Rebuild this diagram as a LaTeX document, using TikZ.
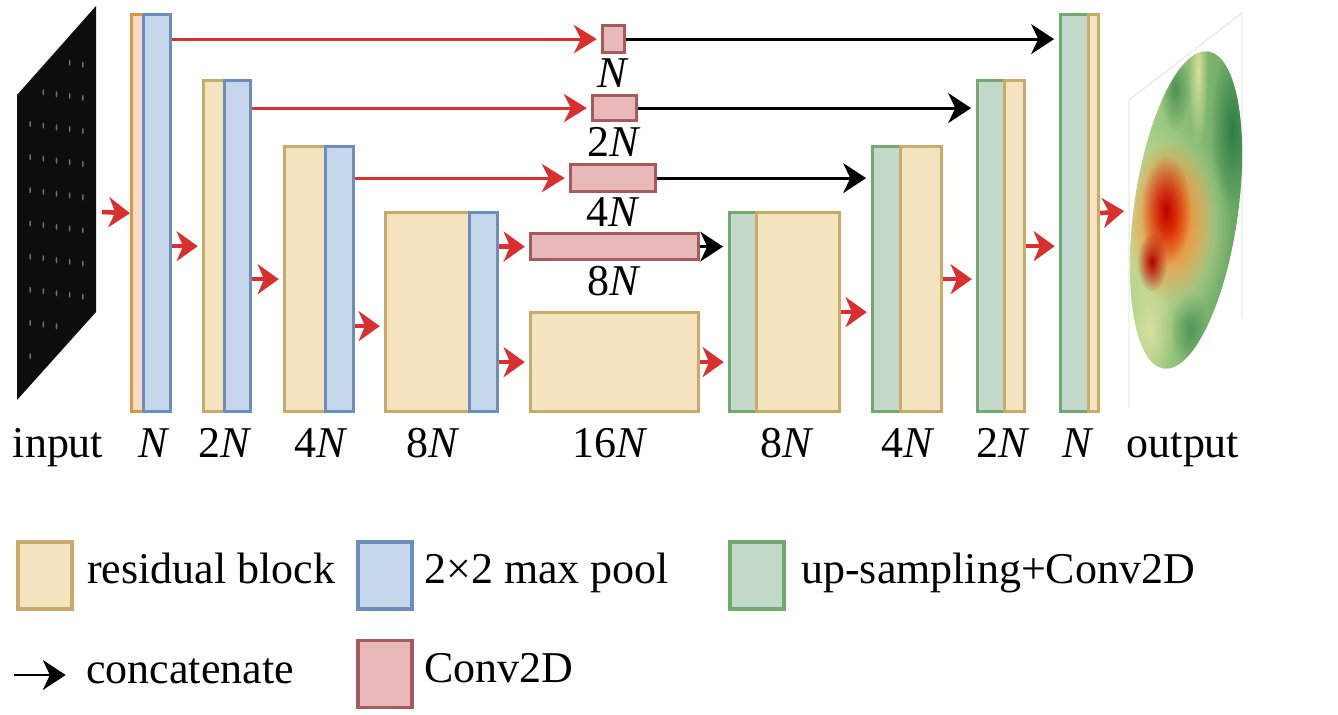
\documentclass[tikz,border=0pt]{standalone}
\usepackage{fontspec}
\setmainfont{Liberation Serif}
\usepackage{tikz}
\usetikzlibrary{arrows.meta,positioning,calc,fadings}
\definecolor{resfill}{HTML}{F3E3BF}
\definecolor{resdraw}{HTML}{C9AA6A}
\definecolor{resinfill}{HTML}{F7D9C4}
\definecolor{resindraw}{HTML}{D69A3E}
\definecolor{poolfill}{HTML}{C6D7EB}
\definecolor{pooldraw}{HTML}{6C8EBD}
\definecolor{upfill}{HTML}{C3DACA}
\definecolor{updraw}{HTML}{72A872}
\definecolor{convfill}{HTML}{E9B9BA}
\definecolor{convdraw}{HTML}{A55B5E}
\definecolor{flowred}{HTML}{D8302F}
\definecolor{mapgreen}{HTML}{5FA35F}
\definecolor{mapdark}{HTML}{2E7D45}
\definecolor{maplight}{HTML}{B9D88E}
\definecolor{mapyel}{HTML}{EEE8A8}
\tikzfading[name=blob, inner color=transparent!0, outer color=transparent!100]
\tikzset{
blk/.style = {line width=0.9pt, inner sep=0pt, anchor=north west},
res/.style = {blk, draw=resdraw, fill=resfill},
resin/.style = {blk, draw=resindraw, fill=resinfill},
pool/.style = {blk, draw=pooldraw, fill=poolfill},
upconv/.style = {blk, draw=updraw, fill=upfill},
conv/.style = {blk, draw=convdraw, fill=convfill},
flow/.style = {draw=flowred, line width=1.3pt, -{Stealth[length=6pt,width=8.5pt,inset=1.8pt]}, shorten >=1.2pt},
skipline/.style = {draw=flowred, line width=0.9pt, -{Stealth[length=6.5pt,width=8pt,inset=2pt]}, shorten >=1.2pt},
catline/.style = {draw=black, line width=0.8pt, -{Stealth[length=6.5pt,width=8.5pt,inset=2pt]}, shorten >=1.4pt},
lab/.style = {inner sep=0pt, anchor=base},
clab/.style = {inner sep=0pt},
legbox/.style = {line width=0.9pt, minimum width=0.54cm, minimum height=0.67cm, inner sep=0pt},
legtext/.style = {inner sep=0pt, anchor=west, text height=0.7em, text depth=0.22em}
}

\begin{document}
\begin{tikzpicture}[x=0.01cm, y=-0.01cm, font=\fontsize{12.5}{15}\selectfont]
  \useasboundingbox (0,0) rectangle (1338,714);

  % input image
  \fill[black!95] (17,95) -- (96,6) -- (96,312) -- (17,400) -- cycle;
  \foreach \i in {1,...,5}
    \foreach \j in {1,...,8} {
      \pgfmathsetmacro\s{\i/6}
      \pgfmathsetmacro\t{\j/9.2 + mod(\i,2)*0.055 - 0.02}
      \fill[white!70!black, opacity=0.6] ({17+79*\s},{95-89*\s+305*\t}) ellipse [x radius=0.25pt, y radius=0.9pt];
    }
  \coordinate (inR) at (102,212);

  % encoder
  \node[resin, minimum width=0.12cm, minimum height=3.97cm] (in1) at (130,13) {};
  \node[pool, minimum width=0.27cm, minimum height=3.97cm] (p1) at (142,13) {};
  \node[res, minimum width=0.21cm, minimum height=3.31cm] (r2) at (202,79) {};
  \node[pool, minimum width=0.26cm, minimum height=3.31cm] (p2) at (223,79) {};
  \node[res, minimum width=0.41cm, minimum height=2.65cm] (r3) at (283,145) {};
  \node[pool, minimum width=0.28cm, minimum height=2.65cm] (p3) at (324,145) {};
  \node[res, minimum width=0.84cm, minimum height=1.99cm] (r4) at (384,211) {};
  \node[pool, minimum width=0.28cm, minimum height=1.99cm] (p4) at (468,211) {};
  \node[res, minimum width=1.68cm, minimum height=0.99cm] (r5) at (529,311) {};

  % skip convolutions
  \node[conv, minimum width=0.22cm, minimum height=0.27cm] (c1) at (601,24) {};
  \node[conv, minimum width=0.44cm, minimum height=0.25cm] (c2) at (591,94) {};
  \node[conv, minimum width=0.85cm, minimum height=0.27cm] (c3) at (569,163) {};
  \node[conv, minimum width=1.68cm, minimum height=0.26cm] (c4) at (529,232) {};
  \node[clab, below=0.04cm of c1] (cl1) {\textit{N}};
  \node[clab, below=0.04cm of c2] (cl2) {2\textit{N}};
  \node[clab, below=0.04cm of c3] (cl3) {4\textit{N}};
  \node[clab, below=0.04cm of c4] (cl4) {8\textit{N}};

  % decoder
  \node[upconv, minimum width=0.27cm, minimum height=1.99cm] (u4) at (728,211) {};
  \node[res, minimum width=0.83cm, minimum height=1.99cm] (d4) at (755,211) {};
  \node[upconv, minimum width=0.28cm, minimum height=2.65cm] (u3) at (871,145) {};
  \node[res, minimum width=0.41cm, minimum height=2.65cm] (d3) at (899,145) {};
  \node[upconv, minimum width=0.27cm, minimum height=3.31cm] (u2) at (976,79) {};
  \node[res, minimum width=0.20cm, minimum height=3.31cm] (d2) at (1003,79) {};
  \node[upconv, minimum width=0.28cm, minimum height=3.97cm] (u1) at (1059,13) {};
  \node[res, minimum width=0.10cm, minimum height=3.97cm] (d1) at (1087,13) {};

  % output image
  \draw[black!8, line width=0.4pt] (1129,407) -- (1129,100) -- (1242,13) -- (1242,318);
  \begin{scope}
    \clip[rotate around={-8:(1186,210)}] (1186,210) ellipse [x radius=0.52cm, y radius=1.6cm];
    \shade[left color=maplight, right color=mapgreen] (1120,40) rectangle (1250,380);
    \fill[mapdark, path fading=blob] (1232,130) ellipse [x radius=0.22cm, y radius=0.8cm];
    \fill[mapdark, path fading=blob, opacity=0.7] (1175,90) ellipse [x radius=0.15cm, y radius=0.4cm];
    \fill[mapdark, path fading=blob, opacity=0.6] (1190,330) ellipse [x radius=0.2cm, y radius=0.4cm];
    \fill[mapyel, path fading=blob, opacity=0.8] (1198,70) ellipse [x radius=0.1cm, y radius=0.8cm];
    \fill[mapyel, path fading=blob, opacity=0.7] (1150,330) ellipse [x radius=0.25cm, y radius=0.6cm];
    \fill[mapyel, path fading=blob] (1170,225) ellipse [x radius=0.62cm, y radius=1.0cm];
    \fill[orange!80!red, path fading=blob] (1170,220) ellipse [x radius=0.45cm, y radius=0.8cm];
    \fill[red!75!black, path fading=blob] (1166,210) ellipse [x radius=0.25cm, y radius=0.55cm];
    \fill[red!70!black, path fading=blob] (1152,262) ellipse [x radius=0.15cm, y radius=0.3cm];
  \end{scope}
  \coordinate (outL) at (1124,211);

  % forward arrows
  \draw[flow, shorten >=0pt] (inR) -- (in1.west);
  \draw[flow] (p1.east |- r2.west) -- (r2.west);
  \draw[flow] (p2.east |- r3.west) -- (r3.west);
  \draw[flow] ($(p3.east |- r4.west)+(0,14)$) -- ($(r4.west)+(0,14)$);
  \draw[flow] (p4.east |- r5.west) -- (r5.west);
  \draw[flow] (p4.east |- c4.west) -- (c4.west);
  \draw[flow] (r5.east) -- (u4.west |- r5.east);
  \draw[flow] (d4.east) -- (u3.west |- d4.east);
  \draw[flow] (d3.east) -- (u2.west |- d3.east);
  \draw[flow] (d2.east) -- (u1.west |- d2.east);
  \draw[flow, shorten >=0pt] (d1.east) -- (outL);

  % skip connections
  \draw[skipline] (p1.east |- c1.west) -- (c1.west);
  \draw[skipline] (p2.east |- c2.west) -- (c2.west);
  \draw[skipline] (p3.east |- c3.west) -- (c3.west);
  \draw[catline] (c1.east) -- (u1.west |- c1.east);
  \draw[catline] (c2.east) -- (u2.west |- c2.east);
  \draw[catline] (c3.east) -- (u3.west |- c3.east);
  \draw[catline] (c4.east) -- (u4.west |- c4.east);

  % channel labels
  \foreach \x/\t [count=\i] in {58/input, 154/\textit{N}, 225/2\textit{N}, 321/4\textit{N}, 433/8\textit{N}, 610/16\textit{N}, 787/8\textit{N}, 908/4\textit{N}, 1003/2\textit{N}, 1078/\textit{N}, 1183/output}
    \node[lab] (lab\i) at (\x,457) {\t};

  % legend
  \node[legbox, draw=resdraw, fill=resfill] (kres) at (45,575.5) {};
  \node[legtext, right=0.13cm of kres] (tres) {residual block};
  \node[legbox, draw=pooldraw, fill=poolfill] (kpool) at (385,575.5) {};
  \node[legtext, right=0.1cm of kpool] (tpool) {2×2 max pool};
  \node[legbox, draw=updraw, fill=upfill] (kup) at (757,575.5) {};
  \node[legtext, right=0.15cm of kup] (tup) {up-sampling+Conv2D};
  \node[minimum width=0.5cm, inner sep=0pt] (kcat) at (40,675) {};
  \draw[catline, shorten >=0pt, line width=0.7pt] (kcat.west) -- (kcat.east);
  \node[legtext, right=0.2cm of kcat] (tcat) {concatenate};
  \node[legbox, draw=convdraw, fill=convfill] (kconv) at (385,674) {};
  \node[legtext, right=0.1cm of kconv] (tconv) {Conv2D};
\end{tikzpicture}
\end{document}
